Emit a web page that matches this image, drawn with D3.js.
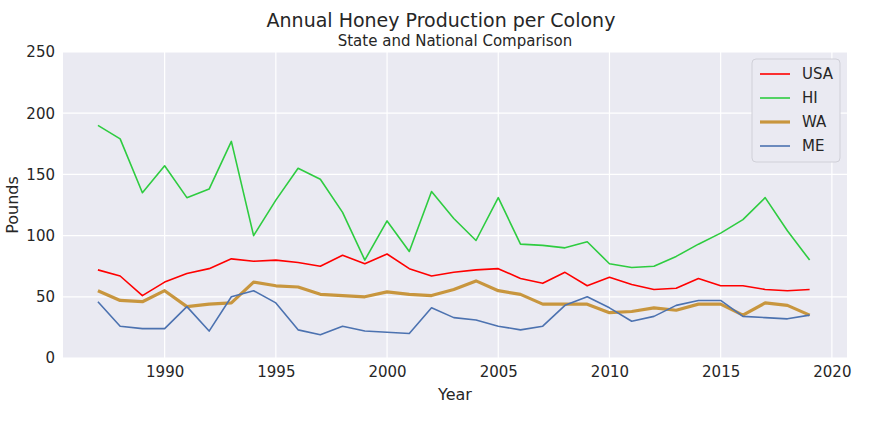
<!DOCTYPE html><html><head><meta charset="utf-8"><script src="https://cdn.jsdelivr.net/npm/d3@7"></script>
<style>body{margin:0;background:#fff}text{font-family:"DejaVu Sans",sans-serif;fill:#262626}</style></head><body><svg id="c" width="877" height="425"></svg>
<script>
const years=d3.range(1987,2020);
const usa=[72,67,51,62,69,73,81,79,80,78,75,84,77,85,73,67,70,72,73,65,61,70,59,66,60,56,57,65,59,59,56,55,56];
const hi=[190,179,135,157,131,138,177,100,129,155,146,119,80,112,87,136,114,96,131,93,92,90,95,77,74,75,83,93,102,113,131,104,80];
const wa=[55,47,46,55,42,44,45,62,59,58,52,51,50,54,52,51,56,63,55,52,44,44,44,37,38,41,39,44,44,35,45,43,35];
const me=[46,26,24,24,42,22,50,55,45,23,19,26,22,21,20,41,33,31,26,23,26,43,50,41,30,34,43,47,47,34,33,32,35];
const series=[{n:"USA",v:usa,c:"#ff0000",w:1.6},{n:"HI",v:hi,c:"#2ecc40",w:1.6},{n:"WA",v:wa,c:"#c8963e",w:3.2},{n:"ME",v:me,c:"#4c72b0",w:1.6}];
const xTicks=[1990,1995,2000,2005,2010,2015,2020], yTicks=[0,50,100,150,200,250];
const svg=d3.select("#c");
const L=63,R=847,T=52,B=358;
const x=d3.scaleLinear().domain([1985.43,2020.68]).range([L,R]);
const y=d3.scaleLinear().domain([0,250]).range([B,T]);
svg.append("rect").attr("x",L).attr("y",T).attr("width",R-L).attr("height",B-T).attr("fill","#eaeaf2");
const g=svg.append("g");
xTicks.forEach(t=>g.append("line").attr("x1",x(t)).attr("x2",x(t)).attr("y1",T).attr("y2",B).attr("stroke","#fff").attr("stroke-width",1.2));
yTicks.forEach(t=>g.append("line").attr("x1",L).attr("x2",R).attr("y1",y(t)).attr("y2",y(t)).attr("stroke","#fff").attr("stroke-width",1.2));
const ax=svg.append("g").attr("transform",`translate(0,${B})`).call(d3.axisBottom(x).tickValues(xTicks).tickFormat(d3.format("d")).tickSize(0).tickPadding(8));
const ay=svg.append("g").attr("transform",`translate(${L},0)`).call(d3.axisLeft(y).tickValues(yTicks).tickSize(0).tickPadding(8));
[ax,ay].forEach(a=>{a.select(".domain").remove();a.selectAll("text").attr("font-size",15).style("fill","#262626");});
const line=d3.line().x((d,i)=>x(years[i])).y(d=>y(d));
series.forEach(s=>svg.append("path").datum(s.v).attr("d",line).attr("fill","none").attr("stroke",s.c).attr("stroke-width",s.w).attr("stroke-linejoin","round"));
svg.append("text").attr("x",441).attr("y",27).attr("text-anchor","middle").attr("font-size",19).text("Annual Honey Production per Colony");
svg.append("text").attr("x",455).attr("y",46).attr("text-anchor","middle").attr("font-size",15).text("State and National Comparison");
svg.append("text").attr("x",455).attr("y",400).attr("text-anchor","middle").attr("font-size",16).text("Year");
svg.append("text").attr("transform","translate(18,205) rotate(-90)").attr("text-anchor","middle").attr("font-size",16).text("Pounds");
const lg=svg.append("g");
lg.append("rect").attr("x",752).attr("y",59).attr("width",88).attr("height",103).attr("rx",4).attr("fill","#eaeaf2").attr("stroke","#d0d0d8");
series.forEach((s,i)=>{const yy=74+i*24;
lg.append("line").attr("x1",760).attr("x2",790).attr("y1",yy).attr("y2",yy).attr("stroke",s.c).attr("stroke-width",s.w);
lg.append("text").attr("x",802).attr("y",yy+5).attr("font-size",15).text(s.n);});
</script></body></html>
